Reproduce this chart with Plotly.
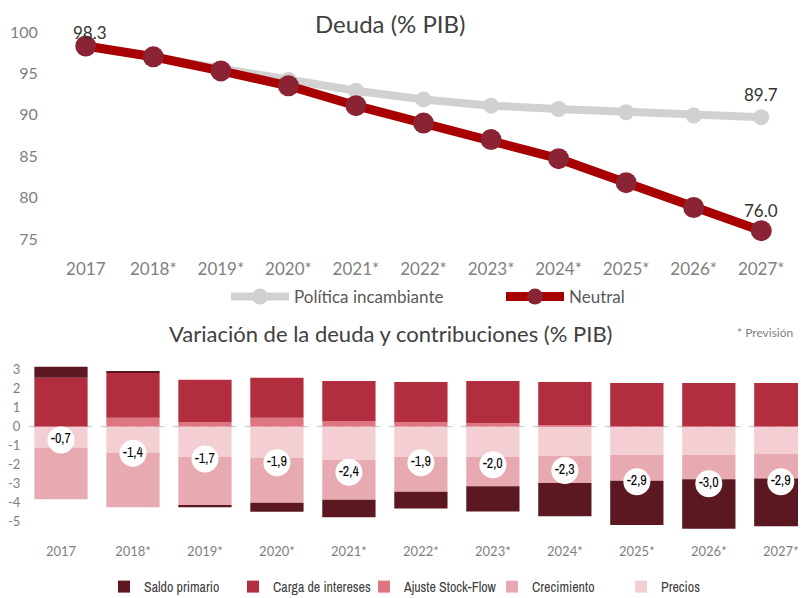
import plotly.graph_objects as go

years = ["2017", "2018*", "2019*", "2020*", "2021*", "2022*", "2023*", "2024*", "2025*", "2026*", "2027*"]

# Top chart: debt (% GDP)
politica = [98.3, 97.0, 95.5, 94.2, 92.9, 91.85, 91.1, 90.7, 90.3, 89.9, 89.7]
neutral = [98.3, 97.0, 95.3, 93.5, 91.1, 89.0, 87.0, 84.7, 81.8, 78.8, 76.0]

# Bottom chart: contributions to debt change (% GDP)
saldo_primario = [0.58, 0.04, -0.12, -0.47, -0.93, -0.88, -1.32, -1.75, -2.33, -2.6, -2.52]
carga_intereses = [2.58, 2.37, 2.24, 2.11, 2.11, 2.12, 2.23, 2.26, 2.30, 2.30, 2.30]
ajuste_sf = [0.0, 0.47, 0.23, 0.47, 0.30, 0.23, 0.18, 0.09, 0.0, 0.0, 0.0]
crecimiento = [-2.72, -2.87, -2.52, -2.35, -2.10, -1.82, -1.54, -1.43, -1.35, -1.28, -1.30]
precios = [-1.10, -1.37, -1.60, -1.65, -1.74, -1.60, -1.60, -1.53, -1.49, -1.49, -1.42]
variacion = [-0.7, -1.4, -1.7, -1.9, -2.4, -1.9, -2.0, -2.3, -2.9, -3.0, -2.9]

top_yticks = [75, 80, 85, 90, 95, 100]
bot_yticks = [-5, -4, -3, -2, -1, 0, 1, 2, 3]

FONT = "Lato"
NARROW = "Archivo Narrow, Asap Condensed, Lato"
# the page body adds an 8px offset; figure fills the rest of the window
OFF = 8
W, H = 806 - OFF, 598 - OFF


def PX(x):
    return (x - OFF) / W


def PY(y):
    return 1 - (y - OFF) / H


fig = go.Figure()

fig.add_trace(go.Scatter(
    x=years, y=politica, name="Política incambiante", mode="lines+markers",
    line=dict(color="#D0D1D0", width=8), marker=dict(color="#D0D1D0", size=16),
    xaxis="x", yaxis="y", legend="legend"))
fig.add_trace(go.Scatter(
    x=years, y=neutral, name="Neutral", mode="lines+markers",
    line=dict(color="#A80000", width=9), marker=dict(color="#8A2434", size=21),
    xaxis="x", yaxis="y", legend="legend2"))

# (name, values, colour, legend id)
bar_specs = [
    ("Ajuste Stock-Flow", ajuste_sf, "#DE7582", "legend5"),
    ("Carga de intereses", carga_intereses, "#B22D3D", "legend4"),
    ("Precios", precios, "#F3CFD4", "legend7"),
    ("Crecimiento", crecimiento, "#E8AAB1", "legend6"),
    ("Saldo primario", saldo_primario, "#5B1820", "legend3"),
]
for name, vals, col, leg in bar_specs:
    fig.add_trace(go.Bar(
        x=years, y=vals, name=name, marker=dict(color=col, line=dict(width=0)),
        xaxis="x2", yaxis="y2", legend=leg))

fig.add_trace(go.Scatter(
    x=years, y=variacion, mode="markers+text", showlegend=False,
    text=[f"{v:.1f}".replace(".", ",") for v in variacion],
    textposition="middle center", textfont=dict(family=NARROW, size=14, color="#000000"),
    marker=dict(color="white", size=27, line=dict(width=0)),
    xaxis="x2", yaxis="y2", hoverinfo="skip"))

first, last = 0, len(years) - 1
annotations = [
    dict(text="Deuda (% PIB)", x=PX(390), y=PY(23), xref="paper", yref="paper",
         xanchor="center", yanchor="middle", showarrow=False, borderpad=0,
         font=dict(family=FONT, size=24, color="#404040")),
    dict(text="Variación de la deuda y contribuciones (% PIB)", x=PX(390), y=PY(333),
         xref="paper", yref="paper", xanchor="center", yanchor="middle", showarrow=False,
         font=dict(family=FONT, size=22, color="#404040")),
    dict(text="* Previsión", x=PX(765), y=PY(332), xref="paper", yref="paper",
         xanchor="center", yanchor="middle", showarrow=False,
         font=dict(family=FONT, size=12, color="#7F7F7F")),
    dict(text=f"{neutral[first]:.1f}", x=first, y=neutral[first], xref="x", yref="y",
         xanchor="center", yanchor="middle", xshift=4, yshift=14, showarrow=False,
         font=dict(family=FONT, size=17, color="#333333")),
    dict(text=f"{politica[last]:.1f}", x=last, y=politica[last], xref="x", yref="y",
         xanchor="center", yanchor="middle", yshift=23, showarrow=False,
         font=dict(family=FONT, size=17, color="#333333")),
    dict(text=f"{neutral[last]:.1f}", x=last, y=neutral[last], xref="x", yref="y",
         xanchor="center", yanchor="middle", yshift=20, showarrow=False,
         font=dict(family=FONT, size=17, color="#333333")),
]

top_leg_font = dict(family=FONT, size=17, color="#595959")
bot_leg_font = dict(family=NARROW, size=14, color="#404040")
leg_common = dict(orientation="h", xanchor="left", yanchor="middle", bgcolor="rgba(0,0,0,0)")

fig.update_layout(
    width=W, height=H, margin=dict(l=0, r=0, t=0, b=0, autoexpand=False),
    paper_bgcolor="white", plot_bgcolor="white",
    font=dict(family=FONT, color="#595959"),
    barmode="relative", bargap=0.26,
    annotations=annotations,
    shapes=[dict(type="line", xref="x2 domain", yref="y2", x0=0.005, x1=1, y0=0, y1=0,
                 line=dict(color="#BFBFBF", width=1, dash="dash"), layer="below")],
    xaxis=dict(domain=[PX(52), PX(795)], anchor="y", type="category", automargin=False,
               categoryarray=years, range=[-0.5, 10.5], showgrid=False, showline=False,
               zeroline=False, ticks="outside", ticklen=4, tickcolor="rgba(0,0,0,0)",
               tickfont=dict(family=FONT, size=17, color="#7F7F7F")),
    yaxis=dict(domain=[PY(250), PY(25)], anchor="x", range=[73.67, 100.84],
               automargin=False, tickvals=top_yticks, showgrid=False, showline=False,
               zeroline=False, ticks="outside", ticklen=10, tickcolor="rgba(0,0,0,0)",
               tickfont=dict(family=FONT, size=16, color="#7F7F7F")),
    xaxis2=dict(domain=[PX(25), 1.0], anchor="y2", type="category", automargin=False,
                categoryarray=years, range=[-0.5, 10.35], showgrid=False, showline=False,
                zeroline=False, ticks="outside", ticklen=4, tickcolor="rgba(0,0,0,0)",
                tickfont=dict(family=FONT, size=13, color="#7F7F7F")),
    yaxis2=dict(domain=[PY(535), PY(360)], anchor="x2", range=[-5.7, 3.51],
                automargin=False, tickvals=bot_yticks, ticktext=[str(v) for v in bot_yticks],
                showgrid=False, showline=False,
                zeroline=False, ticks="outside", ticklen=1, tickcolor="rgba(0,0,0,0)",
                tickfont=dict(family=FONT, size=13, color="#7F7F7F")),
    legend=dict(x=PX(226), y=PY(297), itemwidth=58, font=top_leg_font, **leg_common),
    legend2=dict(x=PX(501), y=PY(297), itemwidth=58, font=top_leg_font, **leg_common),
    legend3=dict(x=PX(104), y=PY(587), font=bot_leg_font, **leg_common),
    legend4=dict(x=PX(233), y=PY(587), font=bot_leg_font, **leg_common),
    legend5=dict(x=PX(364), y=PY(587), font=bot_leg_font, **leg_common),
    legend6=dict(x=PX(492), y=PY(587), font=bot_leg_font, **leg_common),
    legend7=dict(x=PX(621), y=PY(587), font=bot_leg_font, **leg_common),
)

fig.write_html("out.html")
